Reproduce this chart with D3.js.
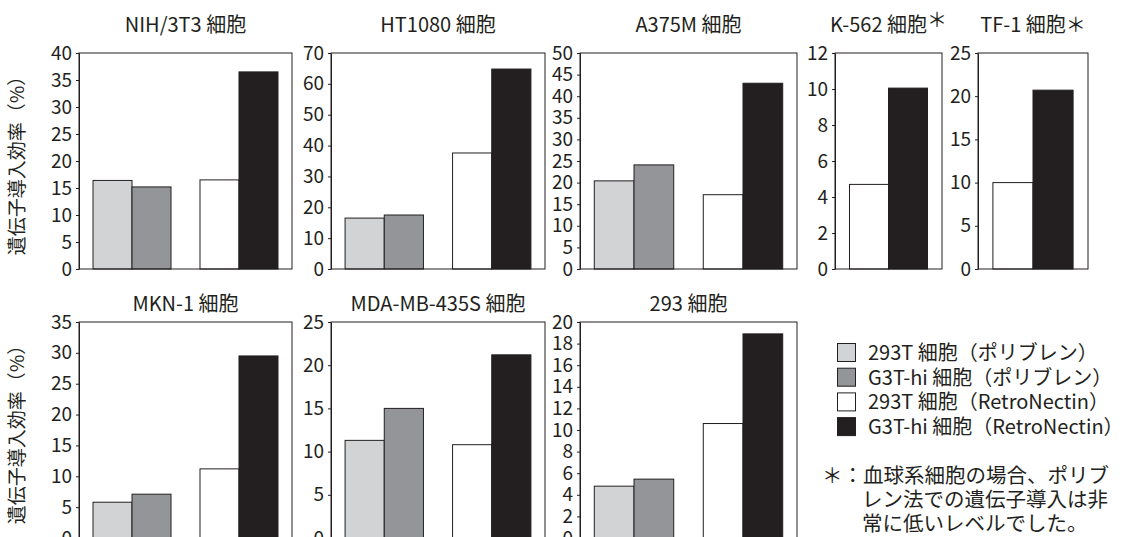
<!DOCTYPE html>
<html>
<head>
<meta charset="utf-8">
<script src="https://cdn.jsdelivr.net/npm/d3@7"></script>
<style>
  body { margin: 0; background: #fff; }
  svg { display: block; font-family: "Noto Sans CJK JP", "Noto Sans", sans-serif; }
  .axis text { font-size: 19px; fill: #231f20; }
  .axis line, .axis path { stroke: #231f20; }
</style>
</head>
<body>
<svg width="1123" height="537"></svg>
<script>
// panel titles (cell lines); a trailing "＊" marks the blood-cell lines
var cellLines = ["NIH/3T3 細胞", "HT1080 細胞", "A375M 細胞", "K-562 細胞＊", "TF-1 細胞＊",
                 "MKN-1 細胞", "MDA-MB-435S 細胞", "293 細胞"];

var seriesNames = ["293T 細胞（ポリブレン）", "G3T-hi 細胞（ポリブレン）",
                   "293T 細胞（RetroNectin）", "G3T-hi 細胞（RetroNectin）"];

// transduction efficiency (%) per cell line, null = not measured
var polybrene293T   = [16.4, 16.5, 20.4, null, null, 5.8, 11.3, 4.8];
var polybreneG3T    = [15.2, 17.5, 24.1, null, null, 7.1, 15.0, 5.45];
var retronectin293T = [16.5, 37.6, 17.2, 4.7, 10.0, 11.2, 10.8, 10.6];
var retronectinG3T  = [36.5, 64.8, 43.0, 10.05, 20.7, 29.5, 21.2, 18.9];

// y axis ranges per panel
var yMax  = [40, 70, 50, 12, 25, 35, 25, 20];
var yStep = [5, 10, 5, 2, 5, 5, 5, 2];

var yLabel = "遺伝子導入効率（%）";
var note = ["＊：", "血球系細胞の場合、ポリブ", "レン法での遺伝子導入は非", "常に低いレベルでした。"];

var colors = ["#d1d3d4", "#939598", "#ffffff", "#231f20"],
    ink = "#231f20";

var series = [polybrene293T, polybreneG3T, retronectin293T, retronectinG3T];

// layout: panel frames in pixels
var layout = [
  {x0: 79, x1: 292, row: 0}, {x0: 331, x1: 545, row: 0}, {x0: 580, x1: 797, row: 0},
  {x0: 835, x1: 942, row: 0}, {x0: 978, x1: 1088, row: 0},
  {x0: 79, x1: 292, row: 1}, {x0: 331, x1: 545, row: 1}, {x0: 580, x1: 797, row: 1}
];
var rowTop = [53, 322], rowTitle = [32, 311], panelH = 216;

var svg = d3.select("svg");

cellLines.forEach(function(name, i) {
  var L = layout[i],
      w = L.x0 === L.x1 ? 0 : L.x1 - L.x0,
      top = rowTop[L.row];

  var g = svg.append("g")
      .attr("transform", "translate(" + L.x0 + "," + top + ")");

  var y = d3.scaleLinear().domain([0, yMax[i]]).range([panelH, 0]);

  // groups of bars: polybrene pair, retronectin pair
  var groups = [[0, 1], [2, 3]].filter(function(grp) {
    return series[grp[0]][i] != null;
  });

  var xg = d3.scaleBand()
      .domain(d3.range(groups.length))
      .range([0, w])
      .paddingInner(0.271)
      .paddingOuter(0.131);

  var xs = d3.scaleBand().domain([0, 1]).range([0, xg.bandwidth()]);

  groups.forEach(function(grp, gi) {
    g.selectAll(null)
        .data(grp)
      .enter().append("rect")
        .attr("x", function(s, k) { return xg(gi) + xs(k); })
        .attr("y", function(s) { return y(series[s][i]); })
        .attr("width", xs.bandwidth())
        .attr("height", function(s) { return panelH - y(series[s][i]); })
        .attr("fill", function(s) { return colors[s]; })
        .attr("stroke", ink)
        .attr("stroke-width", 1);
  });

  // frame
  g.append("rect")
      .attr("width", w)
      .attr("height", panelH)
      .attr("fill", "none")
      .attr("stroke", ink)
      .attr("stroke-width", 1);

  g.append("g")
      .attr("class", "axis")
      .call(d3.axisLeft(y)
        .tickValues(d3.range(0, yMax[i] + yStep[i] / 2, yStep[i]))
        .tickSize(3)
        .tickSizeOuter(0)
        .tickPadding(4))
      .call(function(a) { a.selectAll("text").attr("font-family", null); a.attr("font-family", null).attr("font-size", null); });

  // title
  var t = svg.append("text")
      .attr("x", (L.x0 + L.x1) / 2)
      .attr("y", rowTitle[L.row])
      .attr("text-anchor", "middle")
      .attr("font-size", 20)
      .attr("fill", ink);
  var star = name.indexOf("＊");
  if (star < 0) {
    t.text(name);
  } else {
    t.append("tspan").text(name.slice(0, star));
    t.append("tspan").text("＊")
        .attr("dy", i === 3 ? -5 : 0);
  }
});

// y axis labels
rowTop.forEach(function(top) {
  svg.append("text")
      .attr("transform", "translate(24," + (top + panelH / 2) + ") rotate(-90)")
      .attr("text-anchor", "middle")
      .attr("font-size", 19)
      .attr("fill", ink)
      .text(yLabel);
});

// legend
var legend = svg.append("g").attr("transform", "translate(837,343)");
seriesNames.forEach(function(s, k) {
  legend.append("rect")
      .attr("x", 0.5)
      .attr("y", k * 24.7 + 0.5)
      .attr("width", 18)
      .attr("height", 18)
      .attr("fill", colors[k])
      .attr("stroke", ink);
  legend.append("text")
      .attr("x", 31)
      .attr("y", k * 24.7 + 17)
      .attr("font-size", 20)
      .attr("fill", ink)
      .text(s);
});

// footnote
var n = svg.append("text").attr("font-size", 20.5).attr("fill", ink);
n.append("tspan").attr("x", 822).attr("y", 483).text(note[0]);
n.append("tspan").text(note[1]);
n.append("tspan").attr("x", 862).attr("y", 507).text(note[2]);
n.append("tspan").attr("x", 862).attr("y", 531).text(note[3]);
</script>
</body>
</html>
